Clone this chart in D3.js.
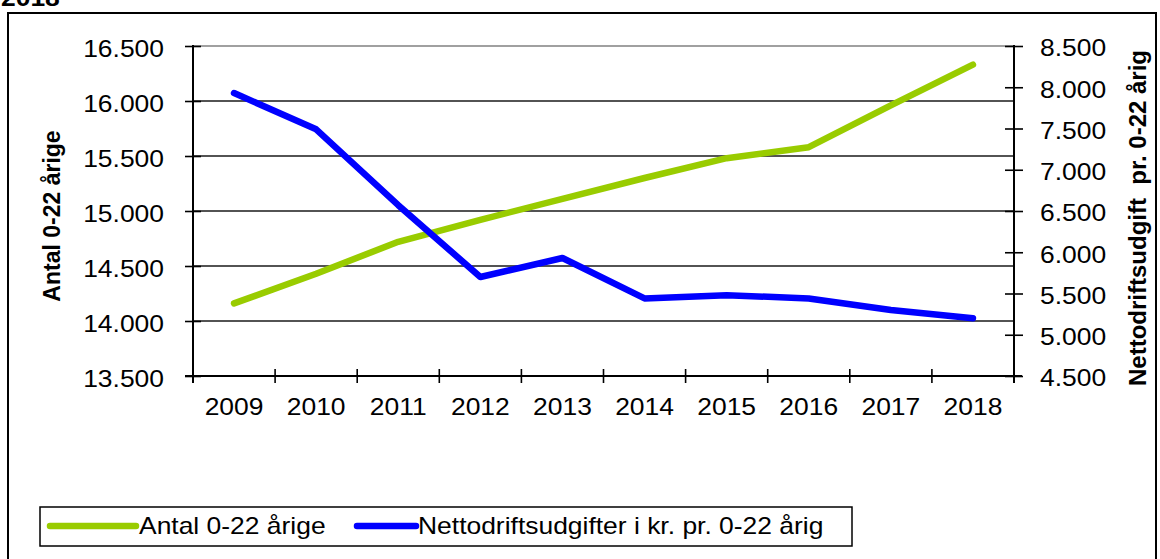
<!DOCTYPE html>
<html>
<head>
<meta charset="utf-8">
<script src="https://cdn.jsdelivr.net/npm/d3@7"></script>
<style>
  html, body { margin: 0; padding: 0; background: #fff; }
  svg { display: block; font-family: "Liberation Sans", Arial, sans-serif; }
</style>
</head>
<body>
<svg id="chart" width="1160" height="559"></svg>
<script>
// ---- data ----
const years = ["2009", "2010", "2011", "2012", "2013", "2014", "2015", "2016", "2017", "2018"];
const antal = [14160, 14430, 14720, 14920, 15110, 15300, 15480, 15580, 15960, 16330];
const netto = [7930, 7490, 6570, 5700, 5930, 5440, 5480, 5440, 5300, 5200];
const leftTicks = [13500, 14000, 14500, 15000, 15500, 16000, 16500];
const rightTicks = [4500, 5000, 5500, 6000, 6500, 7000, 7500, 8000, 8500];
const seriesNames = ["Antal 0-22 årige", "Nettodriftsudgifter i kr. pr. 0-22 årig"];
const leftTitle = "Antal 0-22 årige";
const rightTitle = "Nettodriftsudgift\u00a0 pr. 0-22 årig";
const topText = "2018";

// ---- layout ----
const L = 193, R = 1014, T = 46, B = 376;
const SX = 1.15; // horizontal stretch of the original text
const green = "#99cc00", blue = "#0000ff";

const locale = d3.formatLocale({ decimal: ",", thousands: ".", grouping: [3], currency: ["", " kr."] });
const fmt = locale.format(",");

const svg = d3.select("#chart");

// outer frame
svg.append("rect").attr("x", 8).attr("y", 13).attr("width", 1148).attr("height", 560)
  .attr("fill", "none").attr("stroke", "#000").attr("stroke-width", 2);

// cut title text
svg.append("text").attr("transform", `translate(1,6) scale(${SX},1)`)
  .attr("font-size", 23).attr("font-weight", "bold").text(topText);

const x = d3.scaleBand().domain(years).range([L, R]);
const yL = d3.scaleLinear().domain([13500, 16500]).range([B, T]);
const yR = d3.scaleLinear().domain([4500, 8500]).range([B, T]);

// gridlines
svg.append("g").selectAll("line").data(leftTicks.filter(d => d !== 13500)).join("line")
  .attr("x1", L).attr("x2", R)
  .attr("y1", d => yL(d)).attr("y2", d => yL(d))
  .attr("stroke", d => d === 16500 ? "#808080" : "#1a1a1a").attr("stroke-width", 1.4);

// left axis
const gL = svg.append("g").attr("transform", `translate(${L},0)`)
  .call(d3.axisLeft(yL).tickValues(leftTicks).tickFormat(fmt).tickSize(8).tickSizeOuter(0));
gL.select(".domain").attr("d", `M0,${T - 1}V${B + 7}`).attr("stroke-width", 2);
gL.selectAll(".tick line").attr("x1", 8).attr("x2", -8).attr("stroke-width", 1.6);
gL.selectAll(".tick text").attr("x", null).attr("dy", null).attr("y", null)
  .attr("font-size", 23).attr("fill", "#000").attr("font-family", null)
  .attr("text-anchor", "end").attr("dominant-baseline", "central")
  .attr("transform", `translate(-29,3) scale(${SX},1)`);

// right axis
const gR = svg.append("g").attr("transform", `translate(${R},0)`)
  .call(d3.axisRight(yR).tickValues(rightTicks).tickFormat(fmt).tickSize(8).tickSizeOuter(0));
gR.select(".domain").attr("d", `M0,${T - 1}V${B + 7}`).attr("stroke-width", 2);
gR.selectAll(".tick line").attr("x1", -9).attr("x2", 9).attr("stroke-width", 1.6);
gR.selectAll(".tick text").attr("x", null).attr("dy", null).attr("y", null)
  .attr("font-size", 23).attr("fill", "#000").attr("font-family", null)
  .attr("text-anchor", "start").attr("dominant-baseline", "central")
  .attr("transform", `translate(26,2) scale(${SX},1)`);

// bottom axis
const gB = svg.append("g").attr("transform", `translate(0,${B})`)
  .call(d3.axisBottom(x).tickSize(0));
gB.select(".domain").attr("d", `M${L - 8},0H${R + 8}`).attr("stroke-width", 2);
gB.selectAll(".tick text").attr("y", null).attr("dy", null)
  .attr("font-size", 23).attr("fill", "#000").attr("font-family", null)
  .attr("transform", `translate(0,39) scale(${SX},1)`);
const edges = years.map(d => x(d)).concat([x.range()[1]]);
gB.append("g").selectAll("line").data(edges).join("line")
  .attr("x1", d => d).attr("x2", d => d).attr("y1", -7).attr("y2", 7)
  .attr("stroke", "#000").attr("stroke-width", 1.6);

// lines
const cx = d => x(d) + x.bandwidth() / 2;
const lineL = d3.line().x((d, i) => cx(years[i])).y(d => yL(d));
const lineR = d3.line().x((d, i) => cx(years[i])).y(d => yR(d));
svg.append("path").attr("d", lineL(antal)).attr("fill", "none").attr("stroke", green)
  .attr("stroke-width", 6.5).attr("stroke-linecap", "round").attr("stroke-linejoin", "round");
svg.append("path").attr("d", lineR(netto)).attr("fill", "none").attr("stroke", blue)
  .attr("stroke-width", 6.5).attr("stroke-linecap", "round").attr("stroke-linejoin", "round");

// axis titles
svg.append("text").attr("transform", "translate(60,216) rotate(-90)")
  .attr("text-anchor", "middle").attr("font-size", 23).attr("font-weight", "bold").text(leftTitle);
svg.append("text").attr("transform", "translate(1146,218) rotate(-90)")
  .attr("text-anchor", "middle").attr("font-size", 24).attr("font-weight", "bold").text(rightTitle);

// legend
svg.append("rect").attr("x", 40).attr("y", 507).attr("width", 812).attr("height", 39)
  .attr("fill", "#fff").attr("stroke", "#000").attr("stroke-width", 1.5);
const legendItems = [
  { name: seriesNames[0], color: green, x0: 50, x1: 136, tx: 139 },
  { name: seriesNames[1], color: blue, x0: 357, x1: 416, tx: 418 }
];
const lg = svg.append("g").selectAll("g").data(legendItems).join("g");
lg.append("line").attr("x1", d => d.x0).attr("x2", d => d.x1).attr("y1", 526).attr("y2", 526)
  .attr("stroke", d => d.color).attr("stroke-width", 6.5).attr("stroke-linecap", "round");
lg.append("text").attr("transform", d => `translate(${d.tx},534) scale(${SX},1)`)
  .attr("font-size", 23).text(d => d.name);
</script>
</body>
</html>
